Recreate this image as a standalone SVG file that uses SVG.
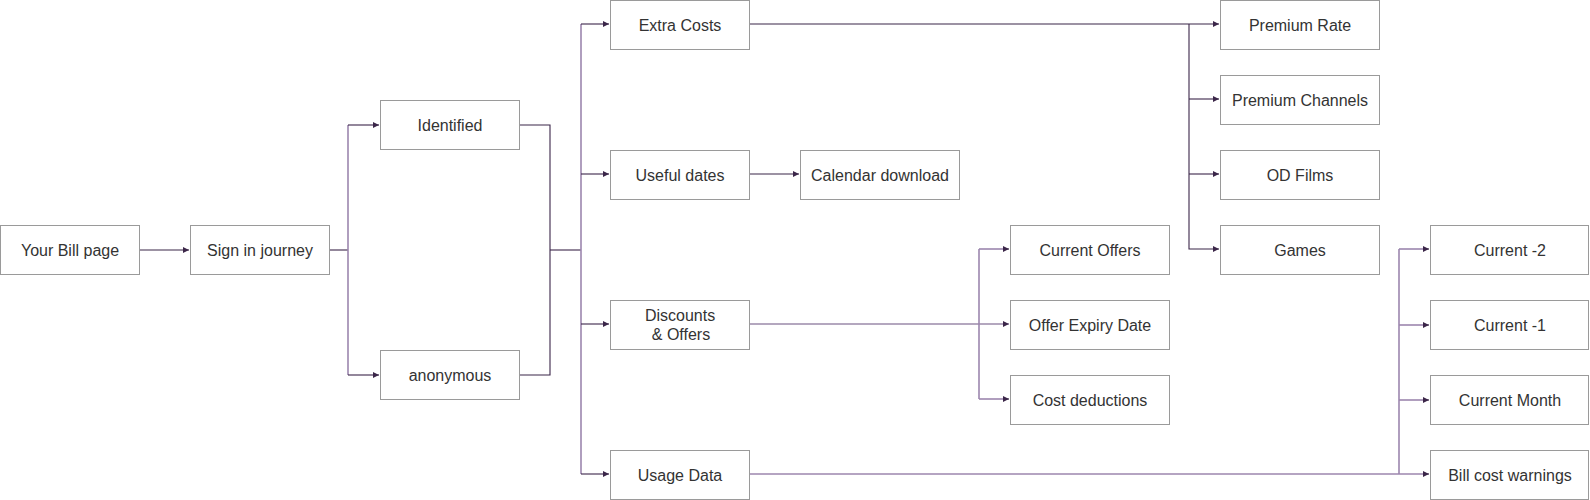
<svg xmlns="http://www.w3.org/2000/svg" width="1590" height="500" viewBox="0 0 1590 500">
<defs>
<style>
.box{fill:#fff;stroke:#9a9a9a;stroke-width:1}
.lbl{font-family:"Liberation Sans",Arial,sans-serif;font-size:16px;fill:#333;text-anchor:middle}
.dk{fill:none;stroke:#3b2649;stroke-width:1.1}
.lt{fill:none;stroke:#9c86ae;stroke-width:1.6}
.md{fill:none;stroke:#6a5080;stroke-width:1.2}
</style>
<marker id="ah" markerUnits="userSpaceOnUse" markerWidth="8" markerHeight="8" refX="6" refY="3" orient="auto">
<path d="M0,0 L6,3 L0,6 Z" fill="#3b2649"/>
</marker>
</defs>
<rect width="1590" height="500" fill="#fff"/>
<g id="connectors">
<path class="dk" d="M139.5,250 H189" marker-end="url(#ah)"/>
<path class="dk" d="M329.5,250 H348"/>
<path class="lt" d="M348,125 V375"/>
<path class="dk" d="M348,125 H379" marker-end="url(#ah)"/>
<path class="dk" d="M348,375 H379" marker-end="url(#ah)"/>
<path class="dk" d="M519.5,125 H550 V375 H519.5"/>
<path class="dk" d="M550,250 H581"/>
<path class="lt" d="M581,24 V474"/>
<path class="dk" d="M581,24 H609" marker-end="url(#ah)"/>
<path class="dk" d="M581,174 H609" marker-end="url(#ah)"/>
<path class="dk" d="M581,324 H609" marker-end="url(#ah)"/>
<path class="dk" d="M581,474 H609" marker-end="url(#ah)"/>
<path class="dk" d="M749.5,174 H799" marker-end="url(#ah)"/>
<path class="dk" d="M749.5,24 H1219" marker-end="url(#ah)"/>
<path class="dk" d="M1189,24 V249 H1219" marker-end="url(#ah)"/>
<path class="dk" d="M1189,99 H1219" marker-end="url(#ah)"/>
<path class="dk" d="M1189,174 H1219" marker-end="url(#ah)"/>
<path class="md" d="M749.5,324 H1009" marker-end="url(#ah)"/>
<path class="lt" d="M979,249 V399"/>
<path class="lt" d="M979,249 H1007"/>
<path class="lt" d="M979,399 H1007"/>
<path class="dk" d="M1003,249 H1009" marker-end="url(#ah)"/>
<path class="dk" d="M1003,399 H1009" marker-end="url(#ah)"/>
<path class="lt" d="M749.5,474 H1427"/>
<path class="lt" d="M1399,249 V474"/>
<path class="lt" d="M1399,249 H1427"/>
<path class="lt" d="M1399,325 H1427"/>
<path class="lt" d="M1399,400 H1427"/>
<path class="dk" d="M1423,249 H1429" marker-end="url(#ah)"/>
<path class="dk" d="M1423,325 H1429" marker-end="url(#ah)"/>
<path class="dk" d="M1423,400 H1429" marker-end="url(#ah)"/>
<path class="dk" d="M1423,474 H1429" marker-end="url(#ah)"/>
</g>
<g id="n-bill"><rect class="box" x="0.5" y="225.5" width="139" height="49"/><text class="lbl" x="70" y="255.5">Your Bill page</text></g>
<g id="n-signin"><rect class="box" x="190.5" y="225.5" width="139" height="49"/><text class="lbl" x="260" y="255.5">Sign in journey</text></g>
<g id="n-identified"><rect class="box" x="380.5" y="100.5" width="139" height="49"/><text class="lbl" x="450" y="130.5">Identified</text></g>
<g id="n-anonymous"><rect class="box" x="380.5" y="350.5" width="139" height="49"/><text class="lbl" x="450" y="380.5">anonymous</text></g>
<g id="n-extra"><rect class="box" x="610.5" y="0.5" width="139" height="49"/><text class="lbl" x="680" y="30.5">Extra Costs</text></g>
<g id="n-useful"><rect class="box" x="610.5" y="150.5" width="139" height="49"/><text class="lbl" x="680" y="180.5">Useful dates</text></g>
<g id="n-discounts"><rect class="box" x="610.5" y="300.5" width="139" height="49"/><text class="lbl" x="680" y="320.5">Discounts</text><text class="lbl" x="681" y="340">&amp; Offers</text></g>
<g id="n-usage"><rect class="box" x="610.5" y="450.5" width="139" height="49"/><text class="lbl" x="680" y="480.5">Usage Data</text></g>
<g id="n-calendar"><rect class="box" x="800.5" y="150.5" width="159" height="49"/><text class="lbl" x="880" y="180.5">Calendar download</text></g>
<g id="n-curoffers"><rect class="box" x="1010.5" y="225.5" width="159" height="49"/><text class="lbl" x="1090" y="255.5">Current Offers</text></g>
<g id="n-offerexp"><rect class="box" x="1010.5" y="300.5" width="159" height="49"/><text class="lbl" x="1090" y="330.5">Offer Expiry Date</text></g>
<g id="n-costded"><rect class="box" x="1010.5" y="375.5" width="159" height="49"/><text class="lbl" x="1090" y="405.5">Cost deductions</text></g>
<g id="n-premrate"><rect class="box" x="1220.5" y="0.5" width="159" height="49"/><text class="lbl" x="1300" y="30.5">Premium Rate</text></g>
<g id="n-premch"><rect class="box" x="1220.5" y="75.5" width="159" height="49"/><text class="lbl" x="1300" y="105.5">Premium Channels</text></g>
<g id="n-odfilms"><rect class="box" x="1220.5" y="150.5" width="159" height="49"/><text class="lbl" x="1300" y="180.5">OD Films</text></g>
<g id="n-games"><rect class="box" x="1220.5" y="225.5" width="159" height="49"/><text class="lbl" x="1300" y="255.5">Games</text></g>
<g id="n-cur2"><rect class="box" x="1430.5" y="225.5" width="158" height="49"/><text class="lbl" x="1510" y="255.5">Current -2</text></g>
<g id="n-cur1"><rect class="box" x="1430.5" y="300.5" width="158" height="49"/><text class="lbl" x="1510" y="330.5">Current -1</text></g>
<g id="n-curmonth"><rect class="box" x="1430.5" y="375.5" width="158" height="49"/><text class="lbl" x="1510" y="405.5">Current Month</text></g>
<g id="n-billwarn"><rect class="box" x="1430.5" y="450.5" width="158" height="49"/><text class="lbl" x="1510" y="480.5">Bill cost warnings</text></g>
</svg>
